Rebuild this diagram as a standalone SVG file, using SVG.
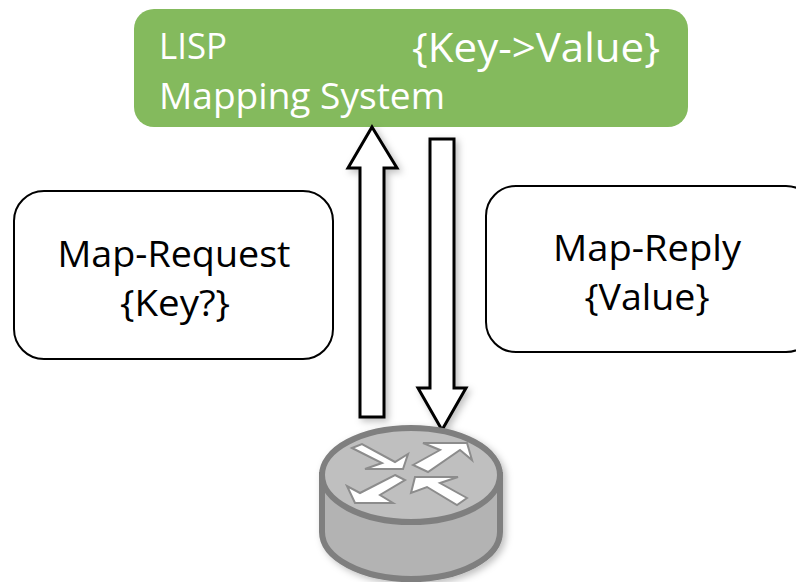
<svg xmlns="http://www.w3.org/2000/svg" width="796" height="582" viewBox="0 0 796 582">
<defs>
<style>
text{font-family:"Open Sans","Noto Sans","Liberation Sans",sans-serif}
.w{fill:#fff;font-size:37px}
.kv{fill:#fff;font-size:41px}
.k{fill:#000;font-size:36px;text-anchor:middle}
.box{fill:#fff;stroke:#000;stroke-width:2}
.arrow{fill:#fff;stroke:#000;stroke-width:3}
.ra{fill:#fff;stroke:#8c8c8c;stroke-width:2}
</style>
<filter id="sh" x="-20%" y="-20%" width="150%" height="140%"><feDropShadow dx="3" dy="3" stdDeviation="3.5" flood-color="#000" flood-opacity="0.25"/></filter>
</defs>
<g id="mapping-system">
<rect x="134" y="9" width="554" height="118" rx="20" fill="#84BA5D"/>
<text class="w" x="159" y="59" textLength="68" lengthAdjust="spacingAndGlyphs">LISP</text>
<text class="kv" x="412" y="62" textLength="248" lengthAdjust="spacingAndGlyphs">{Key-&gt;Value}</text>
<text class="w" x="159" y="109" textLength="286" lengthAdjust="spacingAndGlyphs">Mapping System</text>
</g>
<g id="map-request">
<rect class="box" x="14" y="191" width="319" height="168" rx="30"/>
<text class="k" x="174" y="267" textLength="233" lengthAdjust="spacingAndGlyphs">Map-Request</text>
<text class="k" x="175" y="316" textLength="110" lengthAdjust="spacingAndGlyphs">{Key?}</text>
</g>
<g id="map-reply">
<rect class="box" x="486" y="186" width="330" height="166" rx="30"/>
<text class="k" x="647" y="261" textLength="188" lengthAdjust="spacingAndGlyphs">Map-Reply</text>
<text class="k" x="647" y="310" textLength="125" lengthAdjust="spacingAndGlyphs">{Value}</text>
</g>
<g id="connectors">
<path class="arrow" filter="url(#sh)" d="M372 127L397 168H384V417H360V168H348Z"/>
<path class="arrow" filter="url(#sh)" d="M430 139H454V388H466L442 430L418 388H430Z"/>
</g>
<g id="router" filter="url(#sh)">
<path d="M322 475V532C322 558 362 579 411 579C460 579 500 558 500 532V475Z" fill="#B3B3B3" stroke="#7F7F7F" stroke-width="6"/>
<ellipse cx="411" cy="475" rx="89" ry="47" fill="#BFBFBF" stroke="#7F7F7F" stroke-width="6"/>
<path class="ra" d="M352 448L362 444L395 462L408 454L403 469L365 469L382 463Z"/>
<path class="ra" d="M413 465L440 450L423 443L467 443L472 460L460 450L428 472Z"/>
<path class="ra" d="M395 475L405 480L380 495L393 503L355 503L347 486L360 493Z"/>
<path class="ra" d="M467 498L457 505L427 487L411 493L415 477L458 477L440 483Z"/>
</g>
</svg>
